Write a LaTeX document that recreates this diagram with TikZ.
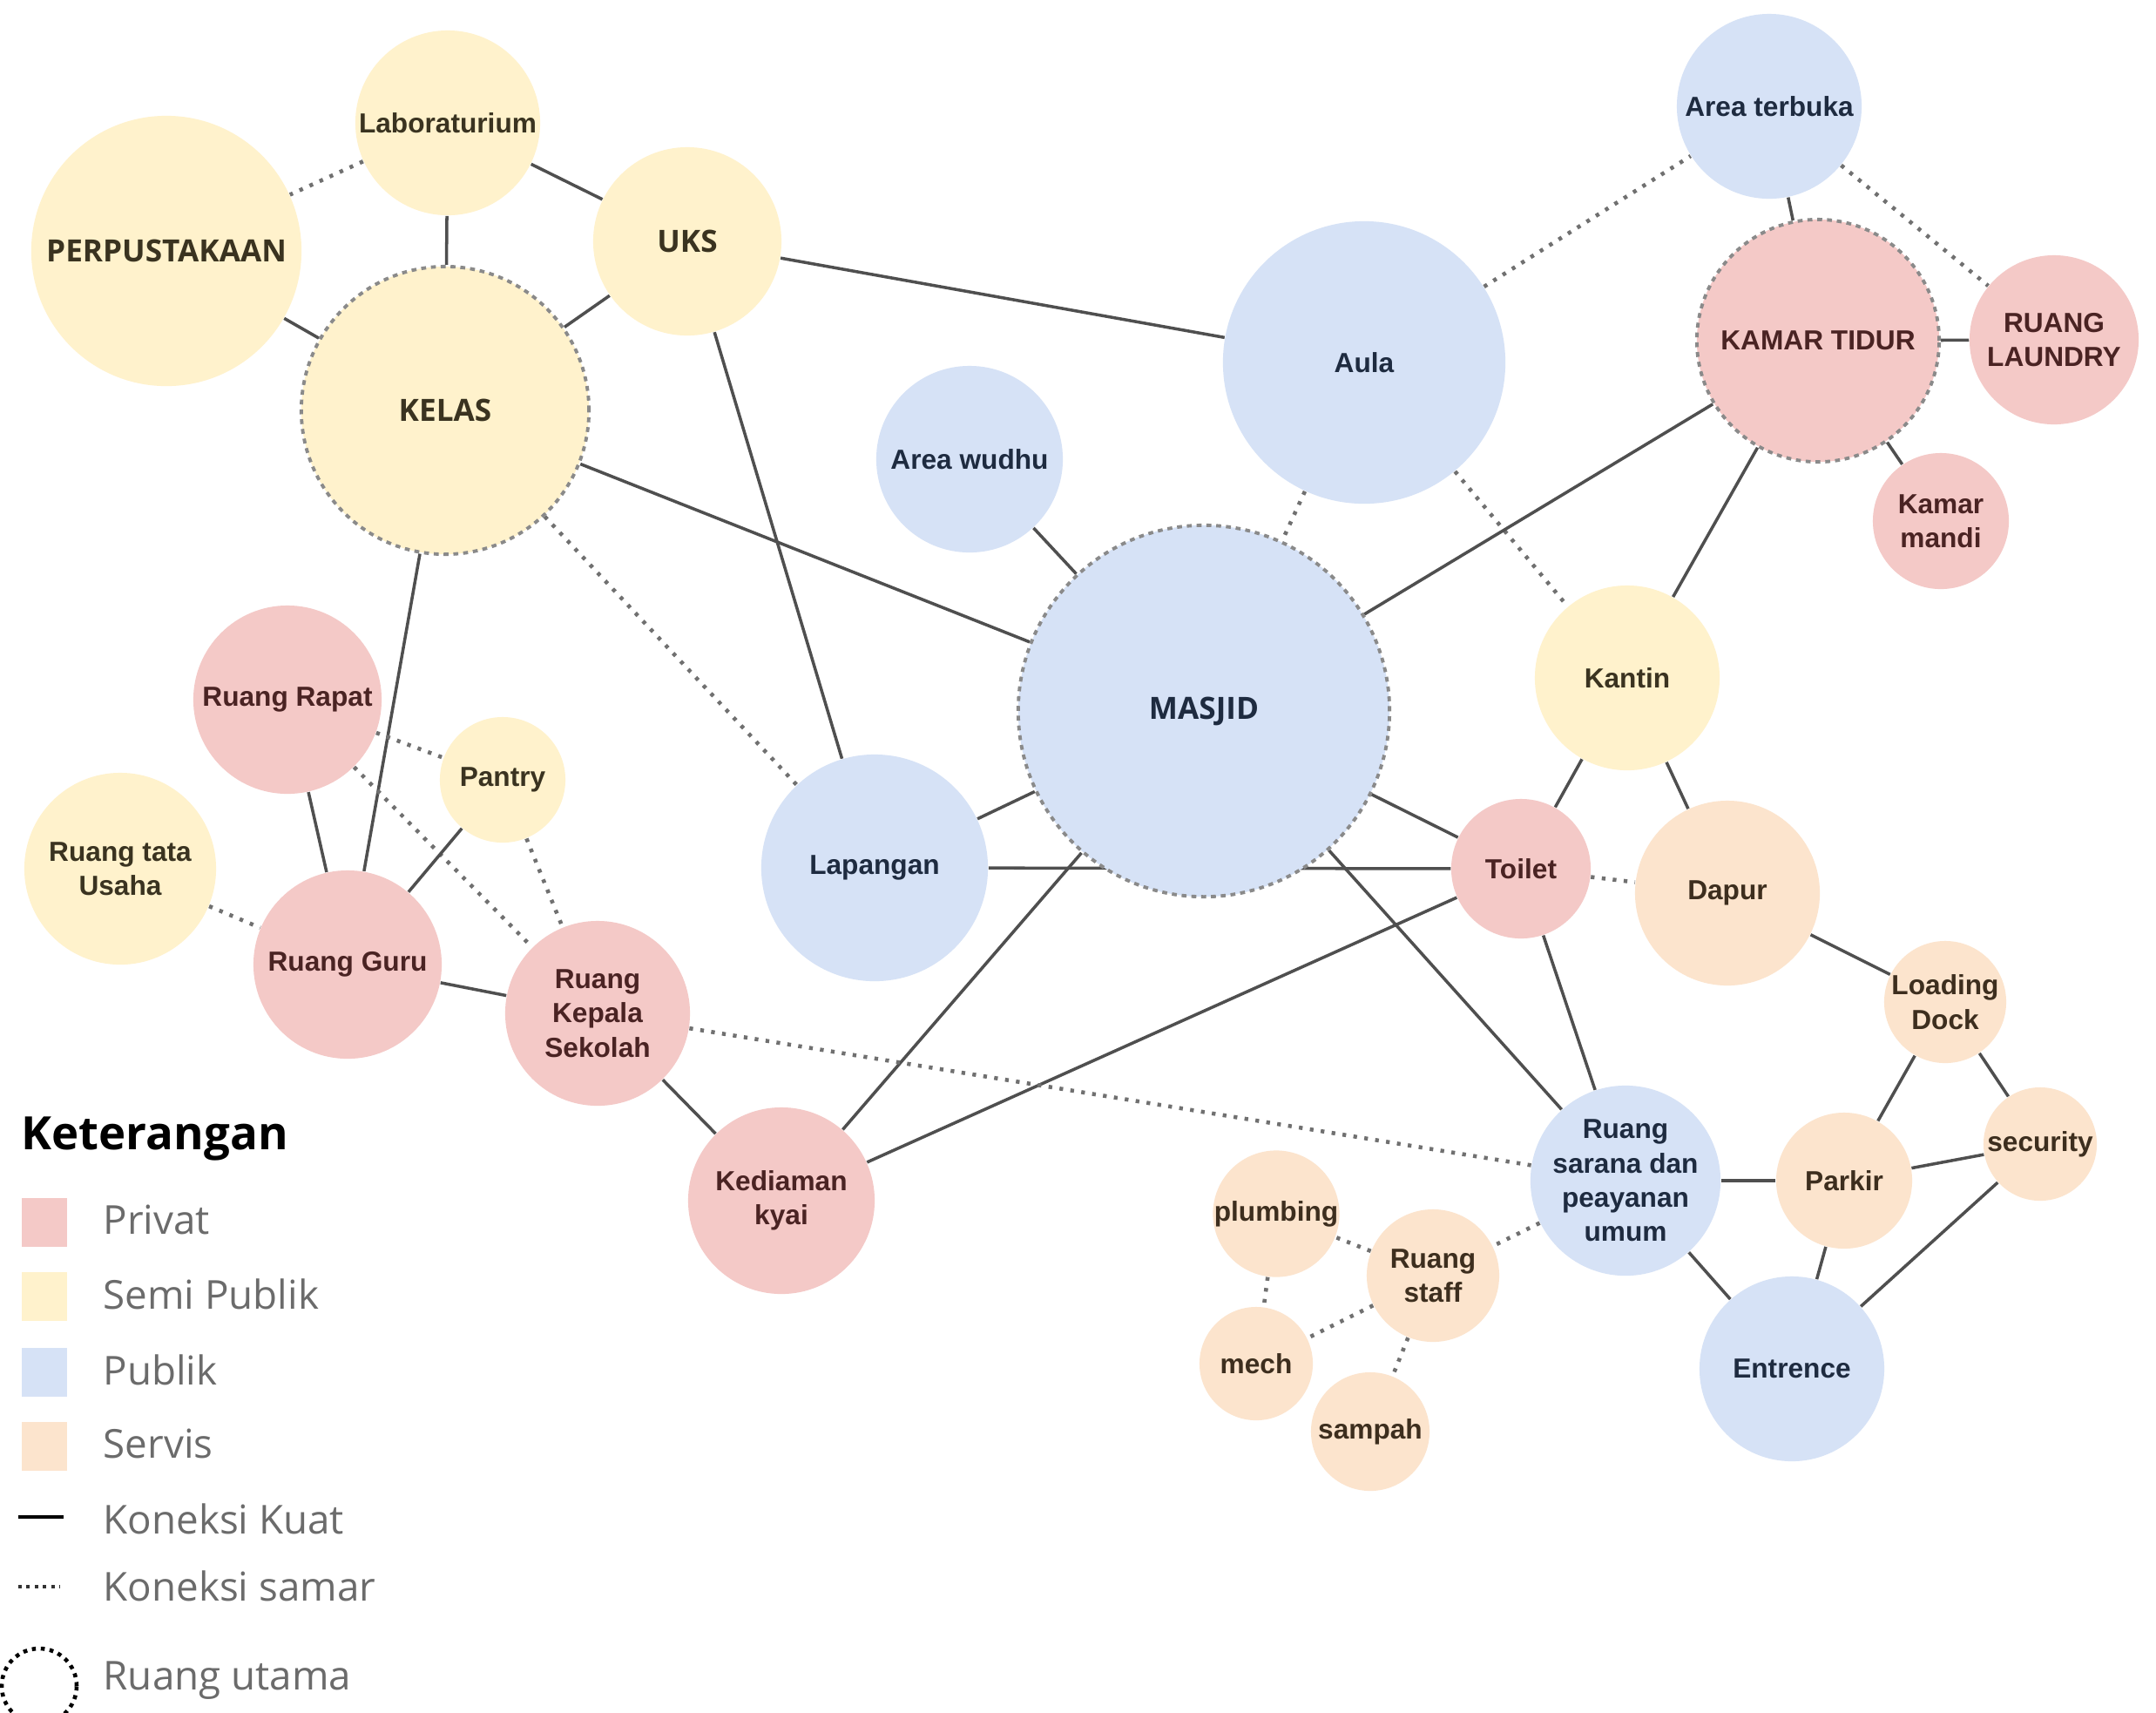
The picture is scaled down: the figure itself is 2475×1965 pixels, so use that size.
\documentclass[tikz,border=0pt]{standalone}
\usepackage{fontspec}
\setmainfont{Liberation Sans}
\newfontfamily\osans{Open Sans}
\usetikzlibrary{backgrounds}
\definecolor{cpriv}{HTML}{F4C9C7}
\definecolor{csemi}{HTML}{FFF2CC}
\definecolor{cpub}{HTML}{D6E2F6}
\definecolor{cserv}{HTML}{FCE4CD}
\definecolor{tpriv}{HTML}{4A2323}
\definecolor{tsemi}{HTML}{3A3320}
\definecolor{tpub}{HTML}{1E2B40}
\definecolor{tserv}{HTML}{3D2E1E}
\definecolor{cline}{HTML}{4F4F4F}
\definecolor{cdot}{HTML}{707070}
\definecolor{cmain}{HTML}{8A8A8A}
\definecolor{clegend}{HTML}{6B6B6B}
\begin{document}
\begin{tikzpicture}[x=0.01cm,y=-0.01cm,
  room/.style={circle, inner sep=0pt, align=center, font=\bfseries\fontsize{9}{11.2}\selectfont},
  big/.style={font=\osans\bfseries\fontsize{10}{12}\selectfont},
  rad/.style={minimum size={#1*0.02cm}},
  priv/.style={room, fill=cpriv, text=tpriv},
  semi/.style={room, fill=csemi, text=tsemi},
  pub/.style={room, fill=cpub, text=tpub},
  serv/.style={room, fill=cserv, text=tserv},
  mainroom/.style={draw=cmain, dash pattern=on 1.6pt off 1.6pt, line width=1.1pt},
  strong/.style={draw=cline, line width=1pt},
  weak/.style={draw=cdot, line width=1.3pt, dash pattern=on 1.2pt off 2.4pt},
  legtext/.style={anchor=west, inner sep=0pt, font=\osans\fontsize{13}{15}\selectfont, text=clegend},
  swatch/.style={minimum width=0.52cm, minimum height=0.56cm, inner sep=0pt}
]
\useasboundingbox (0,0) rectangle (2475,1965);

% ---- nodes ----
\node[semi, rad=106] (lab) at (514,141) {Laboraturium};
\node[semi, big, rad=155] (perp) at (191,288) {PERPUSTAKAAN};
\node[semi, big, rad=108] (uks) at (789,277) {UKS};
\node[semi, big, rad=165, mainroom] (kelas) at (511,471) {KELAS};
\node[pub, rad=107] (wudhu) at (1113,527) {Area wudhu};
\node[pub, rad=162] (aula) at (1566,416) {Aula};
\node[pub, rad=106] (terbuka) at (2031,122) {Area terbuka};
\node[priv, rad=139, mainroom] (kamar) at (2087,391) {KAMAR TIDUR};
\node[priv, rad=97] (laundry) at (2358,390) {RUANG\\LAUNDRY};
\node[priv, rad=78] (mandi) at (2228,598) {Kamar\\mandi};
\node[pub, big, rad=213, mainroom] (masjid) at (1382,816) {MASJID};
\node[semi, rad=106] (kantin) at (1868,778) {Kantin};
\node[priv, rad=80] (toilet) at (1746,997) {Toilet};
\node[serv, rad=106] (dapur) at (1983,1025) {Dapur};
\node[serv, rad=70] (loading) at (2233,1150) {Loading\\Dock};
\node[serv, rad=65] (security) at (2342,1313) {security};
\node[serv, rad=78] (parkir) at (2117,1355) {Parkir};
\node[pub, rad=102] (sarana) at (1866,1355) {Ruang\\sarana dan\\peayanan\\umum};
\node[pub, rad=106] (entrence) at (2057,1571) {Entrence};
\node[serv, rad=69] (plumbing) at (1465,1393) {plumbing};
\node[serv, rad=76] (staff) at (1645,1464) {Ruang\\staff};
\node[serv, rad=65] (mech) at (1442,1565) {mech};
\node[serv, rad=68] (sampah) at (1573,1643) {sampah};
\node[pub, rad=130] (lapangan) at (1004,996) {Lapangan};
\node[priv, rad=108] (rapat) at (330,803) {Ruang Rapat};
\node[semi, rad=72] (pantry) at (577,895) {Pantry};
\node[semi, rad=110] (tata) at (138,997) {Ruang tata\\Usaha};
\node[priv, rad=108] (guru) at (399,1107) {Ruang Guru};
\node[priv, rad=106] (kepala) at (686,1163) {Ruang\\Kepala\\Sekolah};
\node[priv, rad=107] (kyai) at (897,1378) {Kediaman\\kyai};

% ---- connectors (behind the rooms) ----
\begin{scope}[on background layer]
\fill[white] (0,0) rectangle (2475,1965);
\draw[weak] (lab) -- (perp);
\draw[strong] (lab) -- (uks);
\draw[strong] (lab) -- (kelas);
\draw[strong] (perp) -- (kelas);
\draw[strong] (uks) -- (kelas);
\draw[strong] (uks) -- (aula);
\draw[strong] (uks) -- (lapangan);
\draw[strong] (kelas) -- (masjid);
\draw[strong] (kelas) -- (guru);
\draw[weak] (kelas) -- (lapangan);
\draw[strong] (wudhu) -- (masjid);
\draw[weak] (aula) -- (masjid);
\draw[weak] (aula) -- (kantin);
\draw[weak] (aula) -- (terbuka);
\draw[strong] (terbuka) -- (kamar);
\draw[weak] (terbuka) -- (laundry);
\draw[strong] (masjid) -- (kamar);
\draw[strong] (kamar) -- (kantin);
\draw[strong] (kamar) -- (laundry);
\draw[strong] (kamar) -- (mandi);
\draw[strong] (kantin) -- (toilet);
\draw[strong] (kantin) -- (dapur);
\draw[weak] (toilet) -- (dapur);
\draw[strong] (masjid) -- (toilet);
\draw[strong] (lapangan) -- (toilet);
\draw[strong] (lapangan) -- (masjid);
\draw[strong] (masjid) -- (kyai);
\draw[strong] (toilet) -- (kyai);
\draw[strong] (masjid) -- (sarana);
\draw[strong] (toilet) -- (sarana);
\draw[strong] (dapur) -- (loading);
\draw[strong] (loading) -- (parkir);
\draw[strong] (loading) -- (security);
\draw[strong] (parkir) -- (security);
\draw[strong] (sarana) -- (parkir);
\draw[strong] (sarana) -- (entrence);
\draw[strong] (parkir) -- (entrence);
\draw[strong] (security) -- (entrence);
\draw[weak] (kepala) -- (sarana);
\draw[weak] (sarana) -- (staff);
\draw[weak] (staff) -- (plumbing);
\draw[weak] (staff) -- (mech);
\draw[weak] (staff) -- (sampah);
\draw[weak] (plumbing) -- (mech);
\draw[strong] (rapat) -- (guru);
\draw[weak] (rapat) -- (pantry);
\draw[weak] (rapat) -- (kepala);
\draw[strong] (pantry) -- (guru);
\draw[weak] (pantry) -- (kepala);
\draw[weak] (tata) -- (guru);
\draw[strong] (guru) -- (kepala);
\draw[strong] (kepala) -- (kyai);
\end{scope}

% ---- legend ----
\node[anchor=west, inner sep=0pt, font=\osans\bfseries\fontsize{15}{18}\selectfont] (ket) at (24,1307) {Keterangan};
\node[swatch, fill=cpriv] (swpriv) at (51,1403) {};
\node[legtext] (lpriv) at (118,1400) {Privat};
\node[swatch, fill=csemi] (swsemi) at (51,1488) {};
\node[legtext] (lsemi) at (118,1485) {Semi Publik};
\node[swatch, fill=cpub] (swpub) at (51,1575) {};
\node[legtext] (lpub) at (118,1572) {Publik};
\node[swatch, fill=cserv] (swserv) at (51,1660) {};
\node[legtext] (lserv) at (118,1657) {Servis};
\coordinate (kuatA) at (21,1741);
\coordinate (kuatB) at (73,1741);
\draw[black, line width=1.1pt] (kuatA) -- (kuatB);
\node[legtext] (lkuat) at (118,1743) {Koneksi Kuat};
\coordinate (samarA) at (21,1821);
\coordinate (samarB) at (69,1821);
\draw[black!80, line width=1.1pt, dash pattern=on 1.1pt off 1.6pt] (samarA) -- (samarB);
\node[legtext] (lsamar) at (118,1820) {Koneksi samar};
\node[circle, inner sep=0pt, minimum size=0.86cm, draw=black, line width=1.3pt, dash pattern=on 1.3pt off 1.6pt] (lutama) at (45,1935) {};
\node[legtext] (lutamatext) at (118,1929) {Ruang utama};
\end{tikzpicture}
\end{document}
